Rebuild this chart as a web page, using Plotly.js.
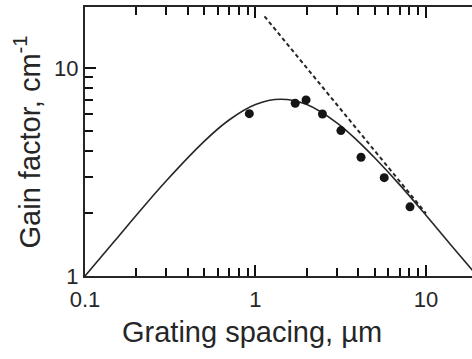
<!DOCTYPE html>
<html>
<head>
<meta charset="utf-8">
<script src="https://cdn.plot.ly/plotly-3.0.1.min.js"></script>
<style>html,body{margin:0;padding:0;background:#fff;}#chart{width:472px;height:359px;}</style>
</head>
<body>
<div id="chart"></div>
<script>
// Measured points: grating spacing (µm) vs gain factor (cm^-1)
var spacingMeasured = [0.92, 1.71, 1.98, 2.47, 3.17, 4.16, 5.69, 8.06];
var gainMeasured    = [6.03, 6.77, 7.02, 6.01, 5.00, 3.72, 2.97, 2.15];

// Solid theory curve
var spacingTheory = [0.1, 0.15, 0.2, 0.3, 0.5, 0.7, 1.0, 1.4, 2.0, 3.0, 4.0, 5.0, 7.0, 10, 14, 19];
var gainTheory    = [1.0, 1.48, 1.96, 2.87, 4.44, 5.62, 6.67, 7.07, 6.67, 5.45, 4.44, 3.70, 2.75, 1.96, 1.41, 1.05];

// Dashed asymptote
var spacingAsym = [1.13, 10];
var gainAsym    = [17.7, 2.0];

// Ticks: labelled decades plus unlabelled minor positions
var xTickVals = [0.1, 0.2, 0.3, 0.4, 0.5, 0.6, 0.7, 0.8, 0.9, 1, 2, 3, 4, 5, 6, 7, 8, 9, 10];
var xTickText = ['0.1', '', '', '', '', '', '', '', '', '1', '', '', '', '', '', '', '', '', '10'];
var xMajorVals = [0.1, 1, 10];
var yTickVals = [1, 2, 3, 4, 5, 6, 7, 8, 9, 10];
var yTickText = ['1', '', '', '', '', '', '', '', '', '10'];
var yMajorVals = [1, 10];

var FONT = '"Liberation Sans", Arial, sans-serif';
var INK = '#262626';
var TICK = '#111111';

var traces = [
  {x: spacingTheory, y: gainTheory, mode: 'lines', line: {color: INK, width: 1.6, shape: 'spline', smoothing: 1.0}, hoverinfo: 'skip'},
  {x: spacingAsym, y: gainAsym, mode: 'lines', line: {color: INK, width: 2, dash: '4px,3px'}, hoverinfo: 'skip'},
  {x: spacingMeasured, y: gainMeasured, mode: 'markers', marker: {color: '#151515', size: 9, symbol: 'circle'}},
  // invisible carrier for the long major-tick axes
  {x: spacingMeasured, y: gainMeasured, xaxis: 'x2', yaxis: 'y2', mode: 'markers', marker: {opacity: 0}, hoverinfo: 'skip'}
];

var baseAxis = {
  type: 'log', showgrid: false, zeroline: false,
  ticks: 'inside', tickcolor: TICK, tickwidth: 2,
  tickfont: {family: FONT, size: 22, color: INK}, tickmode: 'array'
};

var layout = {
  width: 472, height: 359,
  margin: {l: 85, r: 0, t: 7, b: 83},
  paper_bgcolor: '#ffffff', plot_bgcolor: '#ffffff',
  showlegend: false,
  font: {family: FONT, color: INK, size: 22},
  xaxis: Object.assign({}, baseAxis, {
    range: [-1, 1.270], showline: true, linecolor: INK, linewidth: 2, mirror: 'allticks',
    ticklen: 8, tickvals: xTickVals, ticktext: xTickText, ticklabelstandoff: 3
  }),
  yaxis: Object.assign({}, baseAxis, {
    range: [0, 1.293], showline: true, linecolor: INK, linewidth: 2,
    ticklen: 8, tickvals: yTickVals, ticktext: yTickText
  }),
  xaxis2: Object.assign({}, baseAxis, {
    range: [-1, 1.270], overlaying: 'x', anchor: 'y2', side: 'bottom', showline: false, mirror: 'allticks',
    ticklen: 11, tickvals: xMajorVals, showticklabels: false
  }),
  yaxis2: Object.assign({}, baseAxis, {
    range: [0, 1.293], overlaying: 'y', anchor: 'x2', side: 'left', showline: false,
    ticklen: 11, tickvals: yMajorVals, showticklabels: false
  }),
  annotations: [
    {text: 'Grating spacing, µm', xref: 'paper', yref: 'paper', x: 0.4315, y: -0.21,
     xanchor: 'center', yanchor: 'middle', showarrow: false, font: {family: FONT, size: 29, color: INK}},
    {text: 'Gain factor, cm<sup>-1</sup>', xref: 'paper', yref: 'paper', x: -0.15, y: 0.5,
     xanchor: 'center', yanchor: 'middle', textangle: -90, showarrow: false, font: {family: FONT, size: 29, color: INK}}
  ]
};

Plotly.newPlot('chart', traces, layout, {displayModeBar: false});
</script>
</body>
</html>
